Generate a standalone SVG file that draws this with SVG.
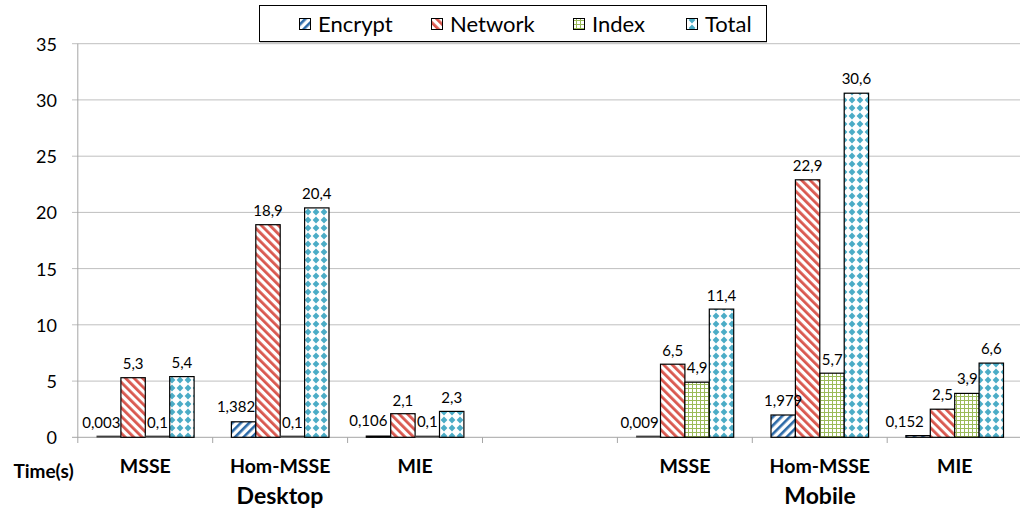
<svg xmlns="http://www.w3.org/2000/svg" width="1020" height="516" viewBox="0 0 1020 516">
<defs>
<pattern id="pEnc" patternUnits="userSpaceOnUse" width="6" height="6" patternTransform="rotate(45)"><rect width="6" height="6" fill="#fff"/><rect width="2.6" height="6" fill="#2C6AA8"/></pattern>
<pattern id="pNet" patternUnits="userSpaceOnUse" width="6" height="6" patternTransform="rotate(-45)"><rect width="6" height="6" fill="#fff"/><rect width="2.8" height="6" fill="#D9574E"/></pattern>
<pattern id="pIdx" patternUnits="userSpaceOnUse" width="4" height="4"><rect width="4" height="4" fill="#fff"/><rect width="1" height="4" fill="#9BBB59"/><rect width="4" height="1" fill="#9BBB59"/></pattern>
<pattern id="pTot" patternUnits="userSpaceOnUse" width="8" height="8"><rect width="8" height="8" fill="#fff"/><path d="M4 0.6 L7.4 4 L4 7.4 L0.6 4 Z" fill="#4BACC6"/></pattern>
</defs>
<style>
.grid{stroke:#BFBFBF;stroke-width:1}
.axis{stroke:#A6A6A6;stroke-width:1}
.bar{stroke:#000;stroke-width:1.2}
.zero{stroke:#404040;stroke-width:2}
.enc{fill:url(#pEnc)} .net{fill:url(#pNet)} .idx{fill:url(#pIdx)} .tot{fill:url(#pTot)}
.yl{font-family:Lato,"Liberation Sans",sans-serif;font-size:18px;fill:#000;text-anchor:end}
.dl{font-family:Lato,"Liberation Sans",sans-serif;font-size:15px;fill:#000;text-anchor:middle}
.cl{font-family:Lato,"Liberation Sans",sans-serif;font-size:19.5px;font-weight:bold;fill:#000;text-anchor:middle}
.gl{font-family:Lato,"Liberation Sans",sans-serif;font-size:23px;font-weight:bold;fill:#000;text-anchor:middle}
.lg{font-family:Lato,"Liberation Sans",sans-serif;font-size:22px;fill:#000}
</style>
<g id="grid">
<line class="grid" x1="72" y1="43.7" x2="1020" y2="43.7"/>
<line class="grid" x1="72" y1="99.9" x2="1020" y2="99.9"/>
<line class="grid" x1="72" y1="156.2" x2="1020" y2="156.2"/>
<line class="grid" x1="72" y1="212.4" x2="1020" y2="212.4"/>
<line class="grid" x1="72" y1="268.6" x2="1020" y2="268.6"/>
<line class="grid" x1="72" y1="324.8" x2="1020" y2="324.8"/>
<line class="grid" x1="72" y1="381.1" x2="1020" y2="381.1"/>
<line class="axis" x1="72" y1="437.3" x2="1020" y2="437.3"/>
<line class="axis" x1="77.8" y1="43.7" x2="77.8" y2="443"/>
<line class="axis" x1="212.7" y1="437.3" x2="212.7" y2="443"/>
<line class="axis" x1="347.6" y1="437.3" x2="347.6" y2="443"/>
<line class="axis" x1="482.5" y1="437.3" x2="482.5" y2="443"/>
<line class="axis" x1="617.4" y1="437.3" x2="617.4" y2="443"/>
<line class="axis" x1="752.3" y1="437.3" x2="752.3" y2="443"/>
<line class="axis" x1="887.2" y1="437.3" x2="887.2" y2="443"/>
</g>
<g id="yaxis-labels">
<text class="yl" x="57" y="50.5">35</text>
<text class="yl" x="57" y="106.5">30</text>
<text class="yl" x="57" y="162.5">25</text>
<text class="yl" x="57" y="219">20</text>
<text class="yl" x="57" y="275.5">15</text>
<text class="yl" x="57" y="331.5">10</text>
<text class="yl" x="57" y="388">5</text>
<text class="yl" x="57" y="444">0</text>
</g>
<g id="desktop-msse">
<line class="zero" x1="96.5" y1="436.6" x2="120.9" y2="436.6"/>
<rect class="bar net" x="120.9" y="377.7" width="24.4" height="59.6"/>
<line class="zero" x1="145.3" y1="436.6" x2="169.7" y2="436.6"/>
<rect class="bar tot" x="169.7" y="376.6" width="24.4" height="60.7"/>
<text class="dl" x="101.3" y="428">0,003</text>
<text class="dl" x="133.1" y="368.7">5,3</text>
<text class="dl" x="157.5" y="428">0,1</text>
<text class="dl" x="181.9" y="367.6">5,4</text>
</g>
<g id="desktop-hom-msse">
<rect class="bar enc" x="231.4" y="421.8" width="24.4" height="15.5"/>
<rect class="bar net" x="255.8" y="224.7" width="24.4" height="212.6"/>
<line class="zero" x1="280.2" y1="436.6" x2="304.6" y2="436.6"/>
<rect class="bar tot" x="304.6" y="207.9" width="24.4" height="229.4"/>
<text class="dl" x="236" y="412">1,382</text>
<text class="dl" x="268" y="215.7">18,9</text>
<text class="dl" x="292.4" y="428">0,1</text>
<text class="dl" x="316.8" y="198.9">20,4</text>
</g>
<g id="desktop-mie">
<rect class="bar enc" x="366.3" y="436.1" width="24.4" height="1.2"/>
<rect class="bar net" x="390.7" y="413.7" width="24.4" height="23.6"/>
<line class="zero" x1="415.1" y1="436.6" x2="439.5" y2="436.6"/>
<rect class="bar tot" x="439.5" y="411.4" width="24.4" height="25.9"/>
<text class="dl" x="368.3" y="426">0,106</text>
<text class="dl" x="402.9" y="405.5">2,1</text>
<text class="dl" x="427.3" y="427">0,1</text>
<text class="dl" x="451.7" y="403">2,3</text>
</g>
<g id="mobile-msse">
<line class="zero" x1="636.1" y1="436.6" x2="660.5" y2="436.6"/>
<rect class="bar net" x="660.5" y="364.2" width="24.4" height="73.1"/>
<rect class="bar idx" x="684.9" y="382.2" width="24.4" height="55.1"/>
<rect class="bar tot" x="709.3" y="309.1" width="24.4" height="128.2"/>
<text class="dl" x="639.5" y="428">0,009</text>
<text class="dl" x="672.7" y="355.5">6,5</text>
<text class="dl" x="697.1" y="373">4,9</text>
<text class="dl" x="721.5" y="300.5">11,4</text>
</g>
<g id="mobile-hom-msse">
<rect class="bar enc" x="771" y="415" width="24.4" height="22.3"/>
<rect class="bar net" x="795.4" y="179.8" width="24.4" height="257.5"/>
<rect class="bar idx" x="819.8" y="373.2" width="24.4" height="64.1"/>
<rect class="bar tot" x="844.2" y="93.2" width="24.4" height="344.1"/>
<text class="dl" x="783.2" y="406.3">1,979</text>
<text class="dl" x="807.6" y="170.5">22,9</text>
<text class="dl" x="832.2" y="364.5">5,7</text>
<text class="dl" x="856.4" y="83.5">30,6</text>
</g>
<g id="mobile-mie">
<rect class="bar enc" x="905.9" y="435.6" width="24.4" height="1.7"/>
<rect class="bar net" x="930.3" y="409.2" width="24.4" height="28.1"/>
<rect class="bar idx" x="954.7" y="393.4" width="24.4" height="43.9"/>
<rect class="bar tot" x="979.1" y="363.1" width="24.4" height="74.2"/>
<text class="dl" x="904.7" y="426.5">0,152</text>
<text class="dl" x="942.5" y="400">2,5</text>
<text class="dl" x="967.3" y="384">3,9</text>
<text class="dl" x="991.3" y="353.5">6,6</text>
</g>
<g id="x-labels">
<text class="cl" x="43.5" y="478" style="font-size:19px">Time(s)</text>
<text class="cl" x="145.3" y="473">MSSE</text>
<text class="cl" x="280.2" y="473">Hom-MSSE</text>
<text class="cl" x="415.1" y="473">MIE</text>
<text class="cl" x="684.9" y="473">MSSE</text>
<text class="cl" x="819.8" y="473">Hom-MSSE</text>
<text class="cl" x="954.7" y="473">MIE</text>
<text class="gl" x="280" y="504">Desktop</text>
<text class="gl" x="820" y="504">Mobile</text>
</g>
<g id="legend">
<line x1="260" y1="43" x2="767" y2="43" stroke="#C8C8C8" stroke-width="2"/>
<rect x="259.5" y="5.5" width="507" height="36" fill="#fff" stroke="#000" stroke-width="1"/>
<rect class="enc" x="299.5" y="18.5" width="11" height="11" stroke="#000" stroke-width="1"/>
<text class="lg" x="318" y="32">Encrypt</text>
<rect class="net" x="431.5" y="18.5" width="11" height="11" stroke="#000" stroke-width="1"/>
<text class="lg" x="450" y="32">Network</text>
<rect class="idx" x="573.5" y="18.5" width="11" height="11" stroke="#000" stroke-width="1"/>
<text class="lg" x="592" y="32">Index</text>
<rect class="tot" x="686.5" y="18.5" width="11" height="11" stroke="#000" stroke-width="1"/>
<text class="lg" x="705" y="32">Total</text>
</g>
</svg>
